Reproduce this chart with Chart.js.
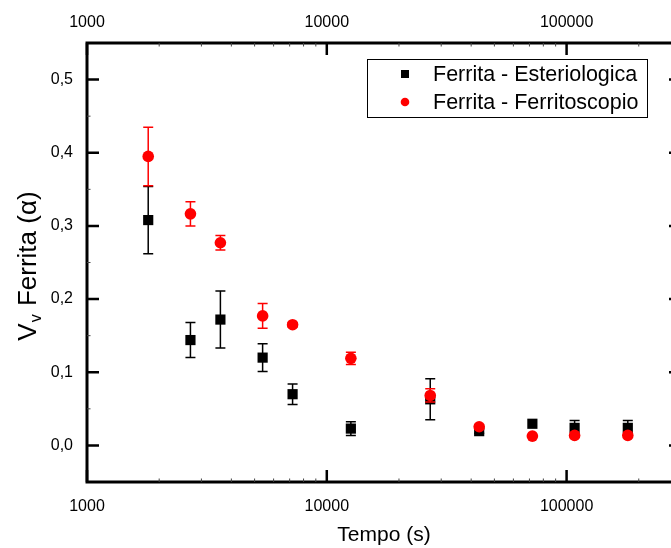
<!DOCTYPE html>
<html>
<head>
<meta charset="utf-8">
<script src="https://cdn.jsdelivr.net/npm/chart.js@4.4.1/dist/chart.umd.min.js"></script>
<style>
    html, body { margin: 0; padding: 0; overflow: hidden; background: #fff; }
</style>
</head>
<body>
<canvas id="grafico" width="700" height="548"></canvas>
<script>
// tempos em segundos
const tempos = [1800, 2700, 3600, 5400, 7200, 12600, 27000, 43200, 72000, 108000, 180000];
const esteriologica = [0.308, 0.144, 0.172, 0.120, 0.070, 0.023, 0.063, 0.0195, 0.0296, 0.024, 0.024];
const erroEsteriologica = [0.046, 0.024, 0.039, 0.019, 0.014, 0.0095, 0.028, 0.003, 0, 0.010, 0.010];
const ferritoscopio = [0.395, 0.3165, 0.277, 0.177, 0.165, 0.119, 0.0683, 0.0255, 0.0127, 0.0137, 0.0137];
const erroFerritoscopio = [0.040, 0.0165, 0.010, 0.017, 0.003, 0.0085, 0.009, 0.003, 0, 0, 0];
const ticksX = [1000, 10000, 100000];
const ticksXMenores = [2000, 3000, 4000, 5000, 6000, 7000, 8000, 9000, 20000, 30000, 40000, 50000, 60000, 70000, 80000, 90000, 200000];
const ticksY = [0, 0.1, 0.2, 0.3, 0.4, 0.5];
const ticksYMenores = [0.05, 0.15, 0.25, 0.35, 0.45];

const fonte = 'Arial, "Liberation Sans", sans-serif';

// barras de erro, desenhadas antes dos pontos de cada serie
const barrasErro = {
    id: 'barrasErro',
    beforeDatasetDraw(chart, args) {
        const ds = chart.data.datasets[args.index];
        const ctx = chart.ctx;
        const x = chart.scales.x, y = chart.scales.y;
        ctx.save();
        ctx.strokeStyle = ds.borderColor;
        ctx.lineWidth = 1.5;
        ds.data.forEach((p, i) => {
            const e = ds.erros[i];
            if (!e) return;
            const px = x.getPixelForValue(p.x);
            const y1 = y.getPixelForValue(p.y + e);
            const y2 = y.getPixelForValue(p.y - e);
            ctx.beginPath();
            ctx.moveTo(px, y1); ctx.lineTo(px, y2);
            ctx.moveTo(px - 5, y1); ctx.lineTo(px + 5, y1);
            ctx.moveTo(px - 5, y2); ctx.lineTo(px + 5, y2);
            ctx.stroke();
        });
        ctx.restore();
    }
};

// moldura com ticks para dentro, titulo do eixo y e legenda
const moldura = {
    id: 'moldura',
    afterDraw(chart) {
        const ctx = chart.ctx;
        const a = chart.chartArea;
        const x = chart.scales.x, y = chart.scales.y;
        ctx.save();
        ctx.strokeStyle = '#000';
        ctx.lineWidth = 3;
        ctx.strokeRect(a.left, a.top, a.right - a.left, a.bottom - a.top);

        ctx.beginPath();
        ctx.lineWidth = 2.5;
        ticksY.forEach(v => {
            const py = y.getPixelForValue(v);
            ctx.moveTo(a.left, py); ctx.lineTo(a.left + 12, py);
            ctx.moveTo(a.right, py); ctx.lineTo(a.right - 12, py);
        });
        ticksX.forEach(v => {
            const px = x.getPixelForValue(v);
            ctx.moveTo(px, a.bottom); ctx.lineTo(px, a.bottom - 12);
            ctx.moveTo(px, a.top); ctx.lineTo(px, a.top + 12);
        });
        ctx.stroke();

        ctx.beginPath();
        ctx.lineWidth = 1;
        ctx.strokeStyle = '#444';
        ticksYMenores.forEach(v => {
            const py = y.getPixelForValue(v);
            ctx.moveTo(a.left, py); ctx.lineTo(a.left + 3.5, py);
            ctx.moveTo(a.right, py); ctx.lineTo(a.right - 3.5, py);
        });
        ticksXMenores.forEach(v => {
            const px = x.getPixelForValue(v);
            ctx.moveTo(px, a.bottom); ctx.lineTo(px, a.bottom - 3.5);
            ctx.moveTo(px, a.top); ctx.lineTo(px, a.top + 3.5);
        });
        ctx.stroke();

        // titulo do eixo y com subscrito
        ctx.fillStyle = '#000';
        ctx.translate(26, 266);
        ctx.rotate(-Math.PI / 2);
        ctx.textBaseline = 'alphabetic';
        ctx.font = '26px ' + fonte;
        const w1 = ctx.measureText('V').width;
        const resto = ' Ferrita (\u03B1)';
        const w3 = ctx.measureText(resto).width;
        ctx.font = '16px ' + fonte;
        const w2 = ctx.measureText('v').width + 2;
        let x0 = -(w1 + w2 + w3) / 2;
        ctx.font = '26px ' + fonte;
        ctx.fillText('V', x0, 10);
        ctx.font = '16px ' + fonte;
        ctx.fillText('v', x0 + w1 + 1, 15);
        ctx.font = '26px ' + fonte;
        ctx.fillText(resto, x0 + w1 + w2, 10);
        ctx.restore();

        // legenda
        ctx.save();
        ctx.fillStyle = '#fff';
        ctx.fillRect(367, 59, 280, 58);
        ctx.strokeStyle = '#000';
        ctx.lineWidth = 1;
        ctx.strokeRect(367.5, 59.5, 280, 58);
        ctx.font = '21.5px ' + fonte;
        ctx.textBaseline = 'middle';
        chart.data.datasets.forEach((ds, i) => {
            const cy = 74 + i * 28;
            ctx.fillStyle = ds.backgroundColor;
            if (ds.pointStyle === 'rect') {
                ctx.fillRect(401, cy - 4, 8, 8);
            } else {
                ctx.beginPath();
                ctx.arc(405, cy, 4.3, 0, Math.PI * 2);
                ctx.fill();
            }
            ctx.fillStyle = '#000';
            ctx.fillText(ds.label, 433, cy + 1);
        });
        ctx.restore();
    }
};

const eixoX = (posicao, altura, padding) => ({
    type: 'logarithmic',
    position: posicao,
    min: 1000,
    max: 300000,
    afterBuildTicks: s => { s.ticks = ticksX.map(v => ({ value: v })); },
    afterFit: s => { s.height = altura; },
    grid: { display: false, drawTicks: false },
    border: { display: false },
    ticks: {
        font: { family: fonte, size: 16 },
        color: '#000',
        padding: padding,
        maxRotation: 0,
        autoSkip: false,
        callback: v => String(v)
    }
});

const ctx = document.getElementById('grafico');
const escalaX = eixoX('bottom', 66, 15);
escalaX.title = {
    display: true,
    text: 'Tempo (s)',
    font: { family: fonte, size: 21 },
    color: '#000',
    padding: 0
};

new Chart(ctx, {
    type: 'scatter',
    data: {
        datasets: [{
            label: 'Ferrita - Esteriologica',
            data: tempos.map((t, i) => ({ x: t, y: esteriologica[i] })),
            erros: erroEsteriologica,
            pointStyle: 'rect',
            pointRadius: 7.2,
            pointHoverRadius: 7.2,
            backgroundColor: '#000000',
            borderColor: '#000000',
            borderWidth: 0,
            order: 1
        }, {
            label: 'Ferrita - Ferritoscopio',
            data: tempos.map((t, i) => ({ x: t, y: ferritoscopio[i] })),
            erros: erroFerritoscopio,
            pointStyle: 'circle',
            pointRadius: 5.8,
            pointHoverRadius: 5.8,
            backgroundColor: '#ff0000',
            borderColor: '#ff0000',
            borderWidth: 0,
            order: 0
        }]
    },
    options: {
        responsive: false,
        animation: false,
        layout: { padding: { left: 0, top: 0, right: 19, bottom: 0 } },
        scales: {
            x: escalaX,
            xTopo: eixoX('top', 43, 11),
            y: {
                type: 'linear',
                min: -0.05,
                max: 0.55,
                afterBuildTicks: s => { s.ticks = ticksY.map(v => ({ value: v })); },
                afterFit: s => { s.width = 87; },
                grid: { display: false, drawTicks: false },
                border: { display: false },
                ticks: {
                    font: { family: fonte, size: 16 },
                    color: '#000',
                    padding: 14,
                    callback: v => v.toFixed(1).replace('.', ',')
                }
            }
        },
        plugins: {
            legend: { display: false },
            tooltip: { enabled: false }
        }
    },
    plugins: [barrasErro, moldura]
});
</script>
</body>
</html>
